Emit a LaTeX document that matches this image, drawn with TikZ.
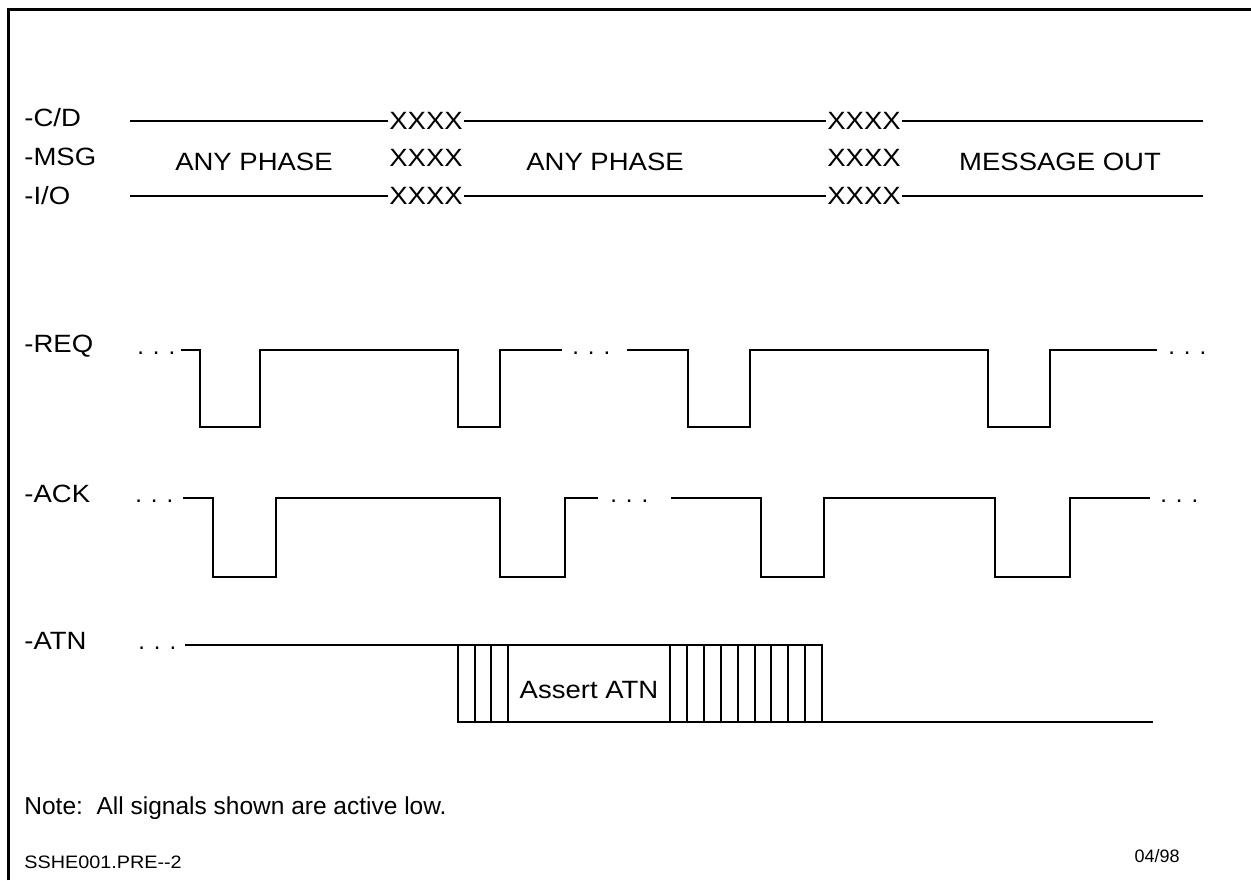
\documentclass[tikz,border=0pt]{standalone}
\usepackage{fontspec}
\setmainfont{Liberation Sans}
\newfontfamily\widesans{Liberation Sans}[FakeStretch=1.1]
\usetikzlibrary{positioning}
\begin{document}
\begin{tikzpicture}[x=0.5pt,y=-0.5pt,
sig/.style={line width=0.8pt},
lbl/.style={font=\widesans\fontsize{12.5}{15}\selectfont,inner sep=0pt},
siglbl/.style={lbl,anchor=west},
dots/.style={font=\fontsize{12}{14}\selectfont,inner sep=0pt,anchor=base west},
xx/.style={lbl,inner sep=0.5pt}]
\useasboundingbox (0,0) rectangle (1251,880);
\draw[line width=1.5pt] (8,880) -- (8,9) -- (1251,9);
% phase signals
\node[siglbl] (cd) at (24,118) {-C/D};
\node[siglbl] (msg) at (24,157) {-MSG};
\node[siglbl] (io) at (24,196) {-I/O};
\foreach \n/\y in {cd/121,msg/158,io/196}{
  \node[xx] (\n a) at (426,\y) {XXXX};
  \node[xx] (\n b) at (864,\y) {XXXX};
}
\foreach \n/\y in {cd/121,io/196}{
  \draw[sig] (130,\y) -- (\n a.west);
  \draw[sig] (\n a.east) -- (\n b.west);
  \draw[sig] (\n b.east) -- (1203,\y);
}
\node[lbl] (ph1) at (254,162) {ANY PHASE};
\node[lbl] (ph2) at (605,162) {ANY PHASE};
\node[lbl] (ph3) at (1060,162) {MESSAGE OUT};
% REQ
\node[siglbl] (req) at (24,346) {-REQ};
\node[dots] (reqd1) at (137,354) {. . .};
\node[dots] (reqd2) at (572,354) {. . .};
\node[dots] (reqd3) at (1168,354) {. . .};
\draw[sig] (181,350) -| (200,427) -| (260,350) -| (458,427) -| (500,350) -- (562,350);
\draw[sig] (627,350) -| (688,427) -| (750,350) -| (988,427) -| (1050,350) -- (1157,350);
% ACK
\node[siglbl] (ack) at (24,494) {-ACK};
\node[dots] (ackd1) at (135,502) {. . .};
\node[dots] (ackd2) at (610,502) {. . .};
\node[dots] (ackd3) at (1160,502) {. . .};
\draw[sig] (183,498) -| (213,577) -| (276,498) -| (500,577) -| (565,498) -- (598,498);
\draw[sig] (671,498) -| (761,577) -| (824,498) -| (995,577) -| (1070,498) -- (1150,498);
% ATN
\node[siglbl] (atn) at (24,641) {-ATN};
\node[dots] (atnd) at (138,649) {. . .};
\draw[sig] (185,645) -- (822,645) -- (822,722);
\draw[sig] (458,645) -- (458,722) -- (1153,722);
\foreach \x in {475,491,508,670,687,704,721,738,755,771,788,805}
  \draw[sig] (\x,645) -- (\x,722);
\node[lbl] (assert) at (589,690) {Assert ATN};
% footer
\node[anchor=west,inner sep=0pt,font=\fontsize{12.25}{14}\selectfont] (note) at (24,808) {Note:\ \ All signals shown are active low.};
\node[siglbl,font=\widesans\fontsize{9}{11}\selectfont] (fig) at (24,862) {SSHE001.PRE-{}-2};
\node[anchor=east,inner sep=0pt,font=\fontsize{9}{11}\selectfont] (date) at (1180,856) {04/98};
\end{tikzpicture}
\end{document}
